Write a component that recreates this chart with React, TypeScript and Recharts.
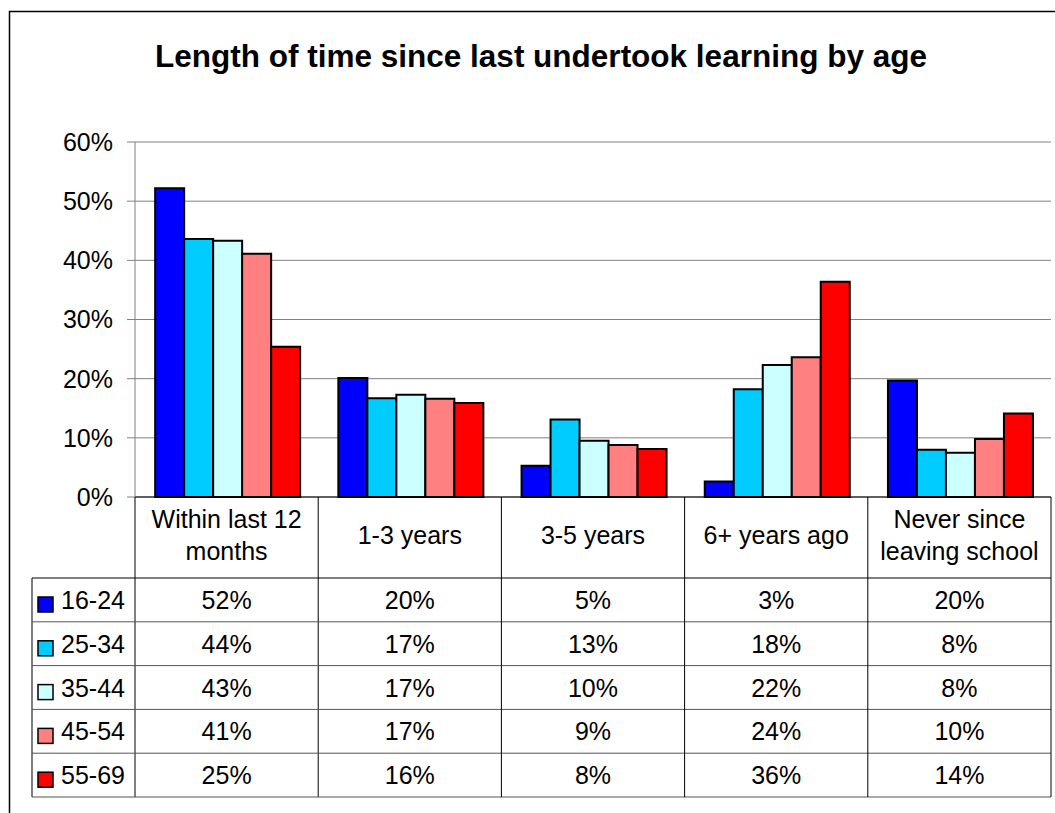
import { BarChart, Bar, XAxis, YAxis, CartesianGrid } from "recharts";

const categories = [
  "Within last 12\nmonths",
  "1-3 years",
  "3-5 years",
  "6+ years ago",
  "Never since\nleaving school",
];
const ageGroups = ["16-24", "25-34", "35-44", "45-54", "55-69"];
const ageColors = ["#0000FF", "#00CCFF", "#CCFFFF", "#FF8080", "#FF0000"];

const age16to24 = [52.2, 20.1, 5.3, 2.6, 19.7];
const age25to34 = [43.6, 16.7, 13.1, 18.2, 8.0];
const age35to44 = [43.3, 17.3, 9.5, 22.3, 7.5];
const age45to54 = [41.1, 16.6, 8.8, 23.6, 9.8];
const age55to69 = [25.4, 15.9, 8.1, 36.4, 14.1];

const yTicks = [0, 10, 20, 30, 40, 50, 60];

const series = [age16to24, age25to34, age35to44, age45to54, age55to69];

const data = categories.map((name, i) => {
  const row: Record<string, string | number> = { name };
  ageGroups.forEach((g, s) => {
    row[g] = series[s][i];
  });
  return row;
});

const FONT = "Arial, 'Liberation Sans', sans-serif";
const W = 1055;
const H = 813;
const MARGIN = { top: 142, right: 4, bottom: 16, left: 75 };
const YAXIS_W = 60;
const XAXIS_H = 300;
const BAND = (W - MARGIN.left - MARGIN.right - YAXIS_W) / categories.length;
const HEADER_H = 81;
const ROW_H = 43.8;
const ROWHEAD_LEFT = 32;
const LINE = "#000";

function TableColumn(props: any) {
  const { x, y, payload } = props;
  const idx: number = payload.index ?? props.index ?? 0;
  const lines = String(payload.value).split("\n");
  const left = x - BAND / 2;
  const right = x + BAND / 2;
  const rowsTop = y + HEADER_H;
  const bottom = rowsTop + ROW_H * ageGroups.length;
  const plotRight = MARGIN.left + YAXIS_W + BAND * categories.length;
  const headBase = y + 47;

  return (
    <g fontFamily={FONT} fontSize={25} fill="#000">
      {lines.map((ln, k) => (
        <text
          key={k}
          x={x}
          y={headBase + (k - (lines.length - 1) / 2) * 32}
          textAnchor="middle"
          fill="#000"
        >
          {ln}
        </text>
      ))}
      {ageGroups.map((g, r) => (
        <text
          key={g}
          x={x}
          y={rowsTop + r * ROW_H + 31}
          textAnchor="middle"
          fill="#000"
        >
          {Math.round(series[r][idx])}%
        </text>
      ))}
      <line x1={right} x2={right} y1={y} y2={bottom} stroke={LINE} />
      {idx === 0 && (
        <g>
          <line x1={left} x2={left} y1={y} y2={bottom} stroke={LINE} />
          <line
            x1={ROWHEAD_LEFT}
            x2={ROWHEAD_LEFT}
            y1={rowsTop}
            y2={bottom}
            stroke={LINE}
          />
          {ageGroups.map((g, r) => (
            <line
              key={"h" + g}
              x1={ROWHEAD_LEFT}
              x2={plotRight}
              y1={rowsTop + r * ROW_H}
              y2={rowsTop + r * ROW_H}
              stroke={r === 0 ? LINE : "#555"}
            />
          ))}
          <line
            x1={ROWHEAD_LEFT}
            x2={plotRight}
            y1={bottom}
            y2={bottom}
            stroke="#555"
          />
          {ageGroups.map((g, r) => (
            <g key={"k" + g}>
              <rect
                x={38}
                y={rowsTop + r * ROW_H + 19}
                width={15}
                height={15}
                fill={ageColors[r]}
                stroke="#000"
                strokeWidth={1.5}
              />
              <text x={61} y={rowsTop + r * ROW_H + 31} fill="#000">
                {g}
              </text>
            </g>
          ))}
        </g>
      )}
    </g>
  );
}

export default function App() {
  return (
    <div
      style={{
        position: "absolute",
        left: 0,
        top: 0,
        width: W,
        height: H,
        overflow: "hidden",
        background: "#fff",
      }}
    >
      <BarChart
        width={W}
        height={H}
        data={data}
        margin={MARGIN}
        barCategoryGap="11%"
        barGap={0}
      >
        <CartesianGrid vertical={false} stroke="#808080" />
        <XAxis
          dataKey="name"
          height={XAXIS_H}
          interval={0}
          tickLine={false}
          tickSize={0}
          tickMargin={0}
          axisLine={{ stroke: "#000" }}
          tick={<TableColumn />}
        />
        <YAxis
          width={YAXIS_W}
          domain={[0, 60]}
          ticks={yTicks}
          tickFormatter={(v: number) => `${v}%`}
          axisLine={{ stroke: "#808080" }}
          tickLine={{ stroke: "#808080" }}
          tickSize={8}
          tickMargin={14}
          tick={{ fill: "#000", fontSize: 25, fontFamily: FONT }}
        />
        {ageGroups.map((g, i) => (
          <Bar
            key={g}
            dataKey={g}
            fill={ageColors[i]}
            stroke="#000"
            strokeWidth={2}
            isAnimationActive={false}
          />
        ))}
      </BarChart>
      <svg
        width={W}
        height={H}
        style={{ position: "absolute", left: 0, top: 0, pointerEvents: "none" }}
      >
        <path d="M9.5 813 V11.5 H1055" fill="none" stroke="#000" strokeWidth={1.5} />
        <text
          x={541}
          y={67}
          textAnchor="middle"
          fontFamily={FONT}
          fontSize={31.5}
          fontWeight="bold"
          fill="#000"
        >
          Length of time since last undertook learning by age
        </text>
      </svg>
    </div>
  );
}
